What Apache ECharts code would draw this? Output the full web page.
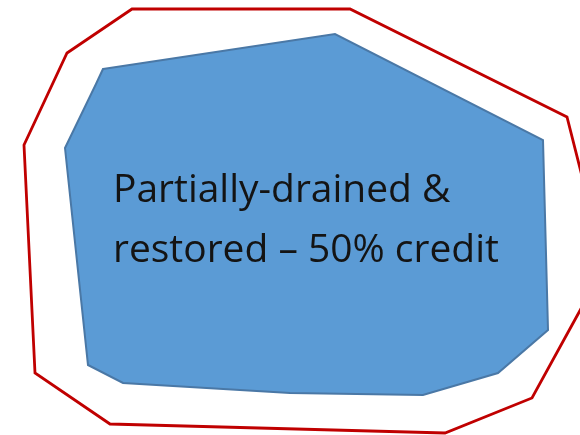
<!DOCTYPE html>
<html><head><meta charset="utf-8">
<script src="https://cdn.jsdelivr.net/npm/echarts@6/dist/echarts.min.js"></script>
<style>html,body{margin:0;padding:0;background:#fff}#c{width:580px;height:435px}</style>
</head><body><div id="c"></div>
<script>
// Outer boundary (red) vertices, in picture units
const outerX = [132, 350, 567, 583, 583, 532, 445, 110, 35, 24, 67];
const outerY = [9, 9, 117, 180, 305, 398, 433, 424, 373, 145, 53];
// Inner wetland (blue) vertices
const innerX = [103, 335, 543, 548, 498, 423, 290, 123, 88, 65, 96];
const innerY = [69, 34, 140, 330, 373, 395, 393, 383, 365, 148, 84];
// Label lines and their anchor (left x, baseline y)
const labelLines = ['Partially-drained &', 'restored \u2013 50% credit'];
const labelX = [113, 113];
const labelY = [203, 263];

const outerPts = outerX.map((x, i) => [x, outerY[i]]);
const innerPts = innerX.map((x, i) => [x, innerY[i]]);

const chart = echarts.init(document.getElementById('c'));
function polySeries(pts, style, z) {
  return {
    type: 'custom', coordinateSystem: 'cartesian2d', z: z, silent: true,
    data: [0],
    renderItem: function (params, api) {
      return { type: 'polygon', shape: { points: pts.map(p => api.coord(p)) }, style: style };
    }
  };
}
chart.setOption({
  animation: false,
  grid: { left: 0, right: 0, top: 0, bottom: 0 },
  xAxis: { type: 'value', min: 0, max: 580, show: false },
  yAxis: { type: 'value', min: 0, max: 435, inverse: true, show: false },
  series: [
    polySeries(outerPts, { fill: '#ffffff', stroke: '#C00000', lineWidth: 2.8 }, 1),
    polySeries(innerPts, { fill: '#5B9BD5', stroke: '#4A78A6', lineWidth: 2 }, 2),
    {
      type: 'custom', coordinateSystem: 'cartesian2d', z: 3, silent: true,
      data: labelLines.map((t, i) => [labelX[i], labelY[i], t]),
      renderItem: function (params, api) {
        const p = api.coord([api.value(0), api.value(1)]);
        return { type: 'text', x: p[0], y: p[1] + 7, scaleX: 1.025,
          style: { text: labelLines[params.dataIndex], fill: '#141414',
            font: '38px "Open Sans"', textAlign: 'left', textVerticalAlign: 'bottom' } };
      }
    }
  ]
});
</script></body></html>
